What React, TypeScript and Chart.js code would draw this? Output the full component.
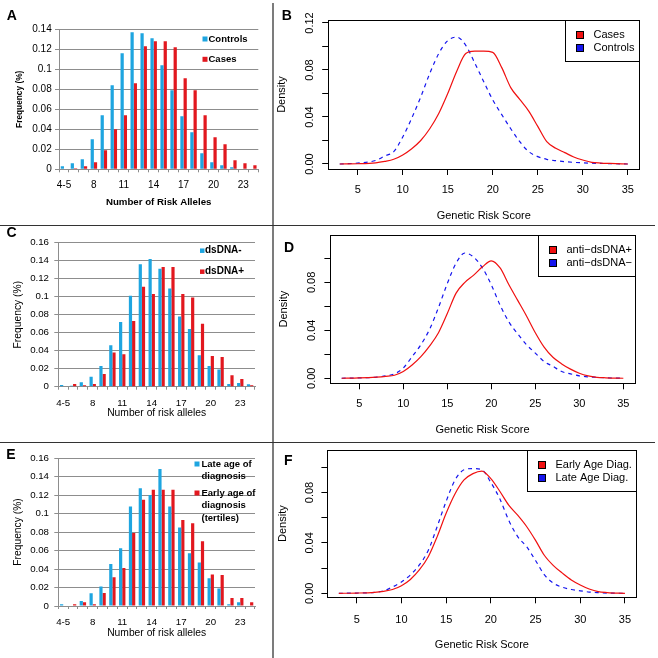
import React, { useEffect, useRef } from "react";
import { Chart, registerables } from "chart.js";

Chart.register(...registerables);

const FONT = "'Liberation Sans', Arial, Helvetica, sans-serif";
const PAGE = 658;

// ---------------- data ----------------
const ALLELE_CATEGORIES = ["4-5", "6", "7", "8", "9", "10", "11", "12", "13", "14", "15", "16", "17", "18", "19", "20", "21", "22", "23", "24"];
const ALLELE_TICK_LABELS = ["4-5", "8", "11", "14", "17", "20", "23"];
const FREQ_TICKS_A = ["0", "0.02", "0.04", "0.06", "0.08", "0.1", "0.12", "0.14"];
const FREQ_TICKS_CE = ["0", "0.02", "0.04", "0.06", "0.08", "0.1", "0.12", "0.14", "0.16"];

const A_CONTROLS = [0.003, 0.006, 0.010, 0.030, 0.054, 0.084, 0.116, 0.137, 0.136, 0.131, 0.104, 0.079, 0.053, 0.037, 0.016, 0.007, 0.004, 0.002, 0, 0];
const A_CASES = [0, 0.001, 0.003, 0.007, 0.019, 0.040, 0.054, 0.086, 0.123, 0.128, 0.128, 0.122, 0.091, 0.079, 0.054, 0.032, 0.025, 0.009, 0.006, 0.004];

const C_DSDNA_NEG = [0.002, 0.001, 0.005, 0.011, 0.023, 0.046, 0.072, 0.101, 0.136, 0.142, 0.131, 0.109, 0.078, 0.064, 0.035, 0.023, 0.019, 0.003, 0.004, 0.0026];
const C_DSDNA_POS = [0, 0.003, 0.0015, 0.003, 0.014, 0.038, 0.036, 0.073, 0.111, 0.103, 0.133, 0.133, 0.103, 0.099, 0.070, 0.034, 0.033, 0.0126, 0.0085, 0.0015];

const E_LATE = [0.002, 0, 0.0054, 0.0137, 0.021, 0.0455, 0.0625, 0.1076, 0.1274, 0.120, 0.148, 0.1076, 0.0848, 0.057, 0.047, 0.030, 0.0188, 0.0018, 0.004, 0];
const E_EARLY = [0, 0.0018, 0.004, 0.0018, 0.014, 0.031, 0.041, 0.079, 0.115, 0.1256, 0.1256, 0.1256, 0.093, 0.0895, 0.070, 0.034, 0.0336, 0.0087, 0.0087, 0.004];

const SCORE_X = [3, 5, 7, 8, 9, 10, 11, 12, 13, 14, 15, 16, 17, 18, 19, 20, 21, 22, 23, 24, 25, 26, 27, 28, 29, 30, 31, 32, 33, 35];
const SCORE_TICKS = [5, 10, 15, 20, 25, 30, 35];
const DENSITY_TICK_VALUES = [0, 0.02, 0.04, 0.06, 0.08, 0.1, 0.12];
const DENSITY_TICK_LABELS = ["0.00", "", "0.04", "", "0.08", "", "0.12"];

const B_CASES = [0, 0.0002, 0.001, 0.0022, 0.004, 0.0077, 0.013, 0.020, 0.030, 0.043, 0.060, 0.079, 0.094, 0.096, 0.096, 0.095, 0.082, 0.065, 0.055, 0.045, 0.032, 0.019, 0.0134, 0.0097, 0.006, 0.0034, 0.0014, 0.0008, 0.0005, 0];
const B_CONTROLS = [0, 0.0008, 0.003, 0.0068, 0.0105, 0.023, 0.039, 0.057, 0.077, 0.094, 0.105, 0.108, 0.101, 0.086, 0.070, 0.0546, 0.042, 0.030, 0.019, 0.0105, 0.0063, 0.004, 0.0028, 0.002, 0.0014, 0.001, 0.0007, 0.0005, 0.0003, 0];

const D_POS = [0, 0.0003, 0.001, 0.0016, 0.0025, 0.0056, 0.011, 0.018, 0.027, 0.038, 0.054, 0.071, 0.080, 0.086, 0.093, 0.098, 0.092, 0.078, 0.065, 0.052, 0.038, 0.026, 0.0175, 0.012, 0.0076, 0.0042, 0.002, 0.0008, 0.0004, 0];
const D_NEG = [0, 0.0003, 0.001, 0.002, 0.0037, 0.0085, 0.018, 0.028, 0.041, 0.059, 0.079, 0.096, 0.1045, 0.101, 0.092, 0.078, 0.061, 0.047, 0.037, 0.028, 0.021, 0.014, 0.010, 0.0056, 0.0037, 0.002, 0.0012, 0.0008, 0.0004, 0];

const F_EARLY = [0, 0.0002, 0.0008, 0.0016, 0.003, 0.006, 0.011, 0.0185, 0.029, 0.045, 0.0635, 0.079, 0.090, 0.095, 0.097, 0.091, 0.081, 0.070, 0.062, 0.053, 0.042, 0.030, 0.022, 0.016, 0.0106, 0.0066, 0.0034, 0.0013, 0.0006, 0];
const F_LATE = [0, 0.0002, 0.0008, 0.002, 0.005, 0.009, 0.0146, 0.0225, 0.034, 0.053, 0.073, 0.090, 0.098, 0.099, 0.098, 0.088, 0.075, 0.058, 0.045, 0.037, 0.026, 0.0146, 0.008, 0.0048, 0.003, 0.002, 0.001, 0.0005, 0.0002, 0];

// ---------------- styles ----------------
const AXIS_GRAY = "#8d8d8d";
const BAR_BLUE = "#1ea5e0";
const BAR_RED = "#e2181f";
const LINE_RED = "#f01010";
const LINE_BLUE = "#1515ee";

function letterPlugin(letter: string, x: number, y: number) {
  return {
    id: "panelLetter",
    afterDraw(chart: any) {
      const ctx = chart.ctx;
      ctx.save();
      ctx.font = `bold 14px ${FONT}`;
      ctx.fillStyle = "#000";
      ctx.textBaseline = "alphabetic";
      ctx.textAlign = "left";
      ctx.fillText(letter, x, y);
      ctx.restore();
    },
  };
}

function barLegendPlugin(spec: any) {
  return {
    id: "barLegend",
    afterDraw(chart: any) {
      const ctx = chart.ctx;
      ctx.save();
      ctx.font = spec.font;
      ctx.textBaseline = "middle";
      ctx.textAlign = "left";
      chart.data.datasets.forEach((ds: any, i: number) => {
        const y = spec.rows[i];
        ctx.fillStyle = ds.backgroundColor;
        ctx.fillRect(spec.x, y - spec.size / 2, spec.size, spec.size);
        ctx.fillStyle = "#000";
        String(ds.label)
          .split("\n")
          .forEach((line: string, k: number) => ctx.fillText(line, spec.textX, y + k * spec.lineGap));
      });
      ctx.restore();
    },
  };
}

function densityFramePlugin(spec: any) {
  return {
    id: "densityFrame",
    afterDraw(chart: any) {
      const { ctx, chartArea } = chart;
      const l = Math.round(chartArea.left) + 0.5;
      const t = Math.round(chartArea.top) + 0.5;
      const r = Math.round(chartArea.right) + 0.5;
      const b = Math.round(chartArea.bottom) + 0.5;
      ctx.save();
      ctx.strokeStyle = "#000";
      ctx.lineWidth = 1;
      ctx.strokeRect(l, t, r - l, b - t);
      const left = Math.round(r - spec.width) + 0.5;
      ctx.fillStyle = "#fff";
      ctx.fillRect(left, t, r - left, spec.height);
      ctx.strokeRect(left, t, r - left, spec.height);
      ctx.font = `11px ${FONT}`;
      ctx.textBaseline = "middle";
      ctx.textAlign = "left";
      chart.data.datasets.forEach((ds: any, i: number) => {
        const y = t + spec.rows[i];
        const bx = Math.round(left + spec.boxX) + 0.5;
        const by = Math.round(y - 3.5) + 0.5;
        ctx.fillStyle = ds.borderColor;
        ctx.fillRect(bx, by, 7, 7);
        ctx.strokeRect(bx, by, 7, 7);
        ctx.fillStyle = "#000";
        ctx.fillText(ds.label, left + spec.textX, y);
      });
      ctx.restore();
    },
  };
}

function makeBar(canvas: HTMLCanvasElement, p: any) {
  const { box, wy, hx } = p;
  return new Chart(canvas, {
    type: "bar",
    data: {
      labels: ALLELE_CATEGORIES,
      datasets: p.series.map((s: any) => ({
        label: s.label,
        data: s.data,
        backgroundColor: s.color,
        borderWidth: 0,
        categoryPercentage: 0.65,
        barPercentage: 1,
      })),
    },
    options: {
      responsive: false,
      animation: false,
      devicePixelRatio: 1,
      events: [],
      layout: { padding: { left: box.L - wy, top: box.T, right: PAGE - box.R, bottom: PAGE - box.B - hx } },
      plugins: { legend: { display: false }, tooltip: { enabled: false } },
      scales: {
        x: {
          type: "category",
          offset: true,
          afterFit: (s: any) => {
            s.height = hx;
          },
          border: { display: true, color: AXIS_GRAY, width: 1 },
          grid: { offset: true, drawOnChartArea: false, drawTicks: true, tickLength: 3, color: AXIS_GRAY },
          ticks: {
            autoSkip: false,
            maxRotation: 0,
            minRotation: 0,
            padding: p.xTickPad,
            font: { family: FONT, size: p.tickSize },
            color: "#000",
            callback: (_v: any, i: number) =>
              ALLELE_TICK_LABELS.includes(ALLELE_CATEGORIES[i]) ? ALLELE_CATEGORIES[i] : "",
          },
          title: { display: true, text: p.xTitle, font: p.xTitleFont, color: "#000", padding: 0 },
        },
        y: {
          type: "linear",
          min: 0,
          max: p.yMax,
          afterFit: (s: any) => {
            s.width = wy;
          },
          border: { display: true, color: AXIS_GRAY, width: 1 },
          grid: { drawOnChartArea: true, drawTicks: true, tickLength: 4, color: AXIS_GRAY, lineWidth: 1 },
          ticks: {
            stepSize: 0.02,
            autoSkip: false,
            padding: p.yTickPad,
            font: { family: FONT, size: p.tickSize },
            color: "#000",
            callback: (_v: any, i: number) => p.yLabels[i] ?? "",
          },
          title: { display: true, text: "Frequency (%)", font: p.yTitleFont, color: "#000", padding: 0 },
        },
      },
    },
    plugins: [barLegendPlugin(p.legend), letterPlugin(p.letter[0], p.letter[1], p.letter[2])],
  } as any);
}

function makeDensity(canvas: HTMLCanvasElement, p: any) {
  const { box, wy, hx } = p;
  return new Chart(canvas, {
    type: "line",
    data: {
      datasets: p.series.map((s: any) => ({
        label: s.label,
        data: SCORE_X.map((x, i) => ({ x, y: s.data[i] })),
        borderColor: s.color,
        backgroundColor: s.color,
        borderWidth: 1.2,
        borderDash: s.dash,
        pointRadius: 0,
        fill: false,
        cubicInterpolationMode: "monotone",
      })),
    },
    options: {
      responsive: false,
      animation: false,
      devicePixelRatio: 1,
      events: [],
      layout: { padding: { left: box.L - wy, top: box.T, right: PAGE - box.R, bottom: PAGE - box.B - hx } },
      plugins: { legend: { display: false }, tooltip: { enabled: false } },
      scales: {
        x: {
          type: "linear",
          min: 1.72,
          max: 36.28,
          bounds: "data",
          afterBuildTicks: (s: any) => {
            s.ticks = SCORE_TICKS.map((value) => ({ value }));
          },
          afterFit: (s: any) => {
            s.height = hx;
          },
          border: { display: false },
          grid: { drawOnChartArea: false, drawTicks: true, tickLength: 6, color: "#000", lineWidth: 1 },
          ticks: {
            autoSkip: false,
            maxRotation: 0,
            minRotation: 0,
            padding: p.xTickPad,
            font: { family: FONT, size: 11 },
            color: "#000",
            callback: (v: any) => String(v),
          },
          title: { display: true, text: "Genetic Risk Score", font: { family: FONT, size: 11 }, color: "#000", padding: 0 },
        },
        y: {
          type: "linear",
          min: p.yMin,
          max: p.yMax,
          bounds: "data",
          afterBuildTicks: (s: any) => {
            s.ticks = DENSITY_TICK_VALUES.filter((v) => v <= p.yMax).map((value) => ({ value }));
          },
          afterFit: (s: any) => {
            s.width = wy;
          },
          border: { display: false },
          grid: { drawOnChartArea: false, drawTicks: true, tickLength: 6, color: "#000", lineWidth: 1 },
          ticks: {
            autoSkip: false,
            minRotation: 90,
            maxRotation: 90,
            crossAlign: "center",
            padding: p.yTickPad,
            font: { family: FONT, size: 11 },
            color: "#000",
            callback: (_v: any, i: number) => DENSITY_TICK_LABELS[i] ?? "",
          },
          title: { display: true, text: "Density", font: { family: FONT, size: 11 }, color: "#000", padding: 0 },
        },
      },
    },
    plugins: [densityFramePlugin(p.legend), letterPlugin(p.letter[0], p.letter[1], p.letter[2])],
  } as any);
}

const PANEL_A = {
  box: { L: 59, T: 29.3, R: 258.3, B: 169.3 },
  wy: 43.8,
  hx: 38.5,
  yMax: 0.14,
  yLabels: FREQ_TICKS_A,
  tickSize: 10,
  xTickPad: 6.7,
  yTickPad: 3.3,
  xTitle: "Number of Risk Alleles",
  xTitleFont: { family: FONT, size: 9.7, weight: "bold" },
  yTitleFont: { family: FONT, size: 8.3, weight: "bold" },
  series: [
    { label: "Controls", data: A_CONTROLS, color: BAR_BLUE },
    { label: "Cases", data: A_CASES, color: BAR_RED },
  ],
  legend: { x: 202.5, textX: 208.5, rows: [39, 59.3], size: 5, lineGap: 12, font: `bold 9.5px ${FONT}` },
  letter: ["A", 6.7, 20],
};

const PANEL_C = {
  box: { L: 58.3, T: 242.7, R: 255, B: 386.7 },
  wy: 46.5,
  hx: 32.5,
  yMax: 0.16,
  yLabels: FREQ_TICKS_CE,
  tickSize: 9.7,
  xTickPad: 7.8,
  yTickPad: 5.3,
  xTitle: "Number of risk alleles",
  xTitleFont: { family: FONT, size: 10.3 },
  yTitleFont: { family: FONT, size: 10.3 },
  series: [
    { label: "dsDNA-", data: C_DSDNA_NEG, color: BAR_BLUE },
    { label: "dsDNA+", data: C_DSDNA_POS, color: BAR_RED },
  ],
  legend: { x: 200, textX: 205, rows: [250.7, 271.7], size: 4.5, lineGap: 12, font: `bold 10px ${FONT}` },
  letter: ["C", 6.6, 236.7],
};

const PANEL_E = {
  box: { L: 58.3, T: 458, R: 255, B: 606 },
  wy: 46.5,
  hx: 32.9,
  yMax: 0.16,
  yLabels: FREQ_TICKS_CE,
  tickSize: 9.7,
  xTickPad: 7.9,
  yTickPad: 5.3,
  xTitle: "Number of risk alleles",
  xTitleFont: { family: FONT, size: 10.3 },
  yTitleFont: { family: FONT, size: 10.3 },
  series: [
    { label: "Late age of\ndiagnosis", data: E_LATE, color: BAR_BLUE },
    { label: "Early age of\ndiagnosis\n(tertiles)", data: E_EARLY, color: BAR_RED },
  ],
  legend: { x: 194.5, textX: 201.5, rows: [464, 493], size: 5, lineGap: 12.7, font: `bold 9.5px ${FONT}` },
  letter: ["E", 6.3, 459.3],
};

const PANEL_B = {
  box: { L: 328.2, T: 20, R: 639.3, B: 169 },
  wy: 53.1,
  hx: 53.6,
  yMin: -0.00426,
  yMax: 0.12255,
  xTickPad: 8.4,
  yTickPad: 1.5,
  series: [
    { label: "Cases", data: B_CASES, color: LINE_RED, dash: [] },
    { label: "Controls", data: B_CONTROLS, color: LINE_BLUE, dash: [4, 4] },
  ],
  legend: { width: 74.3, height: 41, rows: [14, 27.3], boxX: 10, textX: 28 },
  letter: ["B", 281.7, 20],
};

const PANEL_D = {
  box: { L: 330.4, T: 235, R: 634.6, B: 383.3 },
  wy: 53,
  hx: 53.3,
  yMin: -0.0042,
  yMax: 0.1195,
  xTickPad: 8.1,
  yTickPad: 2,
  series: [
    { label: "anti\u2212dsDNA+", data: D_POS, color: LINE_RED, dash: [] },
    { label: "anti\u2212dsDNA\u2212", data: D_NEG, color: LINE_BLUE, dash: [4, 4] },
  ],
  legend: { width: 97.6, height: 41, rows: [14, 27.3], boxX: 10, textX: 28 },
  letter: ["D", 284, 251.7],
};

const PANEL_F = {
  box: { L: 327.4, T: 450, R: 636.4, B: 597.3 },
  wy: 50.7,
  hx: 54.3,
  yMin: -0.00317,
  yMax: 0.11373,
  xTickPad: 10.1,
  yTickPad: 0.7,
  series: [
    { label: "Early Age Diag.", data: F_EARLY, color: LINE_RED, dash: [] },
    { label: "Late Age Diag.", data: F_LATE, color: LINE_BLUE, dash: [4, 4] },
  ],
  legend: { width: 109.4, height: 41, rows: [14, 27.3], boxX: 10, textX: 28 },
  letter: ["F", 284, 465],
};

export default function App() {
  const wrap = useRef<HTMLDivElement | null>(null);

  useEffect(() => {
    const canvases = wrap.current ? Array.from(wrap.current.querySelectorAll("canvas")) : [];
    const charts = [
      makeBar(canvases[0] as HTMLCanvasElement, PANEL_A),
      makeDensity(canvases[1] as HTMLCanvasElement, PANEL_B),
      makeBar(canvases[2] as HTMLCanvasElement, PANEL_C),
      makeDensity(canvases[3] as HTMLCanvasElement, PANEL_D),
      makeBar(canvases[4] as HTMLCanvasElement, PANEL_E),
      makeDensity(canvases[5] as HTMLCanvasElement, PANEL_F),
    ];
    return () => charts.forEach((c) => c.destroy());
  }, []);

  const canvasStyle: React.CSSProperties = { position: "absolute", left: 0, top: 0, width: PAGE, height: PAGE };

  return (
    <div
      ref={wrap}
      style={{ position: "absolute", left: 0, top: 0, width: PAGE, height: PAGE, background: "#fff", overflow: "hidden" }}
    >
      {[0, 1, 2, 3, 4, 5].map((i) => (
        <canvas key={i} width={PAGE} height={PAGE} style={canvasStyle} />
      ))}
      <div style={{ position: "absolute", left: 272, top: 3, width: 2, height: 655, background: "#7c7c7c" }} />
      <div style={{ position: "absolute", left: 0, top: 225, width: 655, height: 1, background: "#333" }} />
      <div style={{ position: "absolute", left: 0, top: 442, width: 655, height: 1, background: "#333" }} />
    </div>
  );
}
